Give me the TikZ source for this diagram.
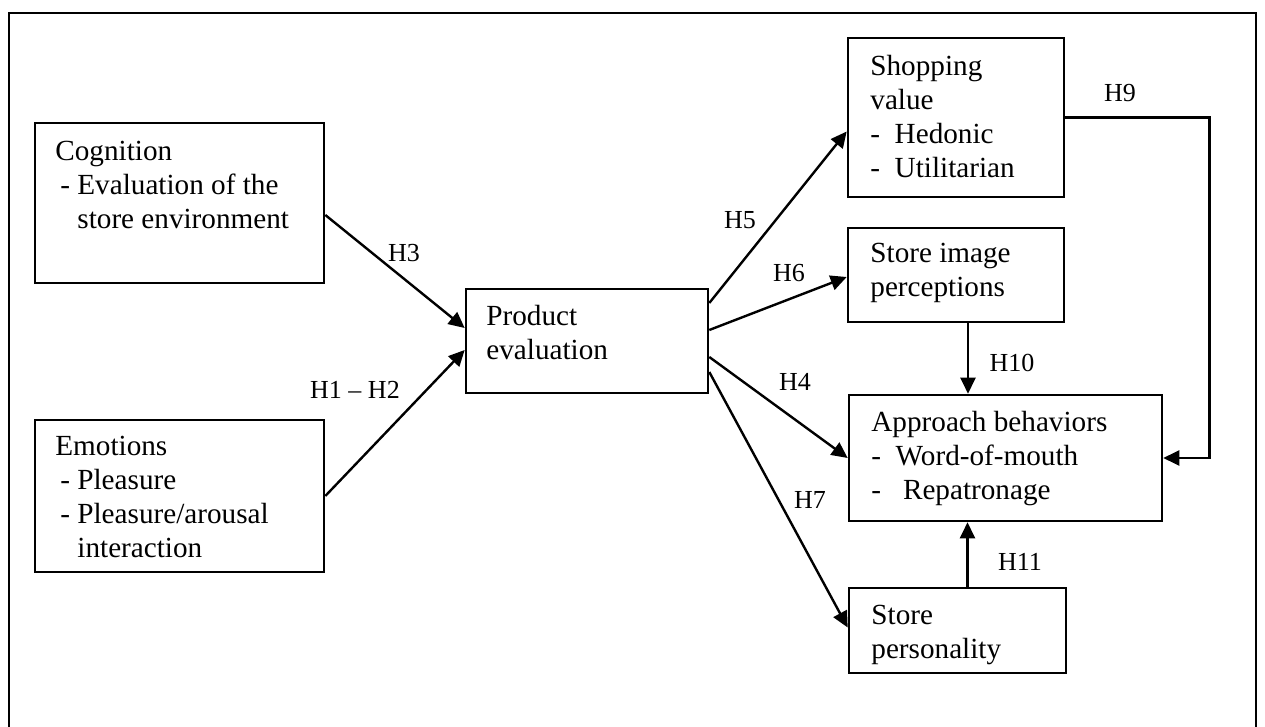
\documentclass[tikz,border=0pt]{standalone}
\usepackage{fontspec}
\setmainfont{Liberation Serif}
\usetikzlibrary{fit,arrows.meta}
\tikzset{
  blk/.style={draw, line width=1.3pt, inner sep=0pt},
  txt/.style={align=left, inner sep=0pt, anchor=north west, font=\fontsize{14.6}{17}\selectfont},
  hyp/.style={inner sep=0pt, font=\fontsize{13}{15}\selectfont},
  arr/.style={-{Triangle[length=8pt,width=7.5pt]}, line width=1.2pt}
}
\begin{document}
\begin{tikzpicture}[x=0.5pt,y=-0.5pt]
\useasboundingbox (0,0) rectangle (1265,727);
\draw[line width=1.2pt] (9,727) -- (9,13) -- (1256,13) -- (1256,727);
% boxes
\node[blk, fit={(35,123) (324,283)}] (cog) {};
\node[blk, fit={(35,420) (324,572)}] (emo) {};
\node[blk, fit={(466,289) (708,393)}] (pe) {};
\node[blk, fit={(848,38) (1064,197)}] (shop) {};
\node[blk, fit={(848,228) (1064,322)}] (sip) {};
\node[blk, fit={(849,395) (1162,521)}] (ab) {};
\node[blk, fit={(849,588) (1066,673)}] (sp) {};
% box texts
\node[txt] (cogt) at (55,141) {Cognition\\\hspace{2.5pt}- Evaluation of the\\\hphantom{\hspace{2.5pt}- }store environment};
\node[txt] (emot) at (55,436) {Emotions\\\hspace{2.5pt}- Pleasure\\\hspace{2.5pt}- Pleasure/arousal\\\hphantom{\hspace{2.5pt}- }interaction};
\node[txt] (pet) at (486,305) {Product\\evaluation};
\node[txt] (shopt) at (870,55) {Shopping\\value\\-~~Hedonic\\-~~Utilitarian};
\node[txt] (sipt) at (870,243) {Store image\\perceptions};
\node[txt] (abt) at (871,411) {Approach behaviors\\-~~Word-of-mouth\\-~~~Repatronage};
\node[txt] (spt) at (871,605) {Store\\personality};
% connectors
\draw[arr] ([yshift=-6pt]cog.east) -- ([yshift=6.5pt]pe.west);
\draw[arr] (emo.east) -- ([yshift=-4.5pt]pe.west);
\draw[arr] ([yshift=19pt]pe.east) -- ([yshift=-7pt]shop.west);
\draw[arr] ([yshift=5.5pt]pe.east) -- ([yshift=-1pt]sip.west);
\draw[arr] ([yshift=-8pt]pe.east) -- (ab.west);
\draw[arr] ([yshift=-15.5pt]pe.east) -- ([yshift=1.5pt]sp.west);
\draw[arr] ([xshift=6pt]sip.south) -- ([xshift=6pt]sip.south |- ab.north);
\draw[arr] ([xshift=5pt]sp.north) -- ([xshift=5pt]sp.north |- ab.south);
\draw[arr] (shop.east) -- ++(144,0) |- (ab.east);
% labels
\node[hyp] (h3) at (404,253) {H3};
\node[hyp] (h12) at (355,390) {H1 -- H2};
\node[hyp] (h5) at (740,220) {H5};
\node[hyp] (h6) at (789,273) {H6};
\node[hyp] (h4) at (795,382) {H4};
\node[hyp] (h7) at (810,500) {H7};
\node[hyp] (h10) at (1012,363) {H10};
\node[hyp] (h11) at (1020,562) {H11};
\node[hyp] (h9) at (1120,93) {H9};
\end{tikzpicture}
\end{document}
